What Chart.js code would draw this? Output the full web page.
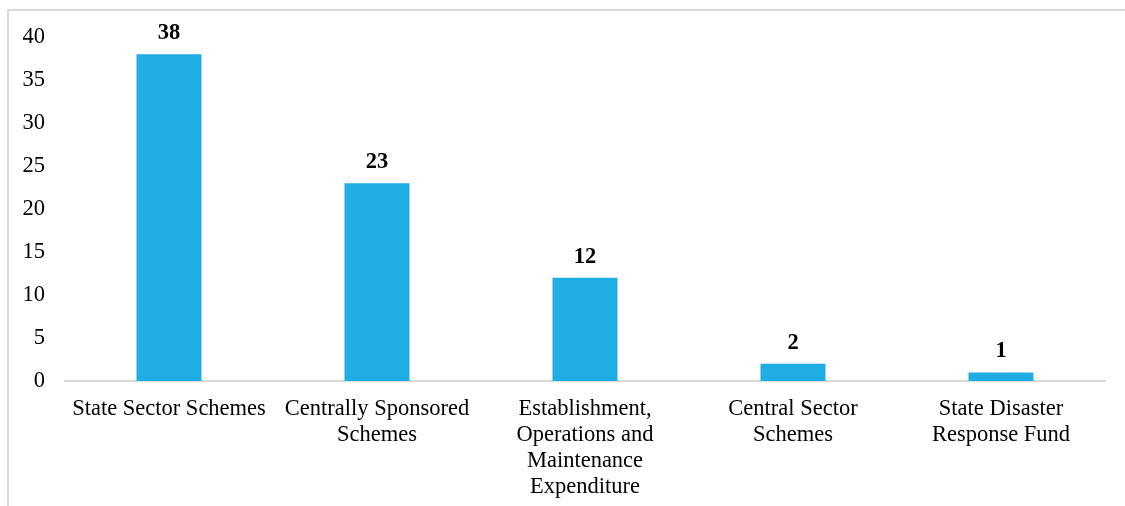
<!DOCTYPE html>
<html>
<head>
<meta charset="utf-8">
<script src="https://cdn.jsdelivr.net/npm/chart.js@4/dist/chart.umd.min.js"></script>
<style>
  html, body { margin: 0; padding: 0; background: #fff; }
  #wrap { position: relative; width: 1125px; height: 506px; overflow: hidden; }
  #frame { position: absolute; left: 7px; top: 9px; width: 1200px; height: 600px;
           border-left: 2px solid #d9d9d9; border-top: 2px solid #d9d9d9; box-sizing: border-box; }
  canvas { position: absolute; left: 0; top: 0; }
</style>
</head>
<body>
<div id="wrap">
  <div id="frame"></div>
  <canvas id="c" width="1125" height="506"></canvas>
</div>
<script>
const categories = [
  ["State Sector Schemes"],
  ["Centrally Sponsored", "Schemes"],
  ["Establishment,", "Operations and", "Maintenance", "Expenditure"],
  ["Central Sector", "Schemes"],
  ["State Disaster", "Response Fund"]
];
const values = [38, 23, 12, 2, 1];
const yTicks = [0, 5, 10, 15, 20, 25, 30, 35, 40];

const FONT = "'Liberation Serif', 'Times New Roman', serif";

const valueLabels = {
  id: 'valueLabels',
  afterDatasetsDraw(chart) {
    const ctx = chart.ctx;
    const meta = chart.getDatasetMeta(0);
    ctx.save();
    ctx.font = "bold 22.5px " + FONT;
    ctx.fillStyle = '#000';
    ctx.textAlign = 'center';
    ctx.textBaseline = 'alphabetic';
    meta.data.forEach((bar, i) => {
      ctx.fillText(String(values[i]), bar.x, bar.y - 15);
    });
    ctx.restore();
  }
};

new Chart(document.getElementById('c'), {
  type: 'bar',
  data: {
    labels: categories,
    datasets: [{
      data: values,
      backgroundColor: '#1FADE4',
      borderWidth: 0,
      barPercentage: 0.3125,
      categoryPercentage: 1.0
    }]
  },
  options: {
    responsive: false,
    animation: false,
    events: [],
    layout: { padding: { left: 0, right: 20, top: 37, bottom: 0 } },
    plugins: { legend: { display: false }, tooltip: { enabled: false } },
    scales: {
      x: {
        grid: { display: false, drawTicks: false },
        border: { display: true, color: '#d9d9d9', width: 2 },
        ticks: {
          color: '#000', font: { family: FONT, size: 22.5, lineHeight: '26px' },
          padding: 15, maxRotation: 0, minRotation: 0, autoSkip: false
        },
        afterFit(s) { s.height = 125; }
      },
      y: {
        min: 0, max: 40,
        afterBuildTicks(s) { s.ticks = yTicks.map(v => ({ value: v })); },
        grid: { display: false, drawTicks: false },
        border: { display: false },
        ticks: { color: '#000', font: { family: FONT, size: 22.5 }, padding: 20 },
        afterFit(s) { s.width = 65; }
      }
    }
  },
  plugins: [valueLabels]
});
</script>
</body>
</html>
